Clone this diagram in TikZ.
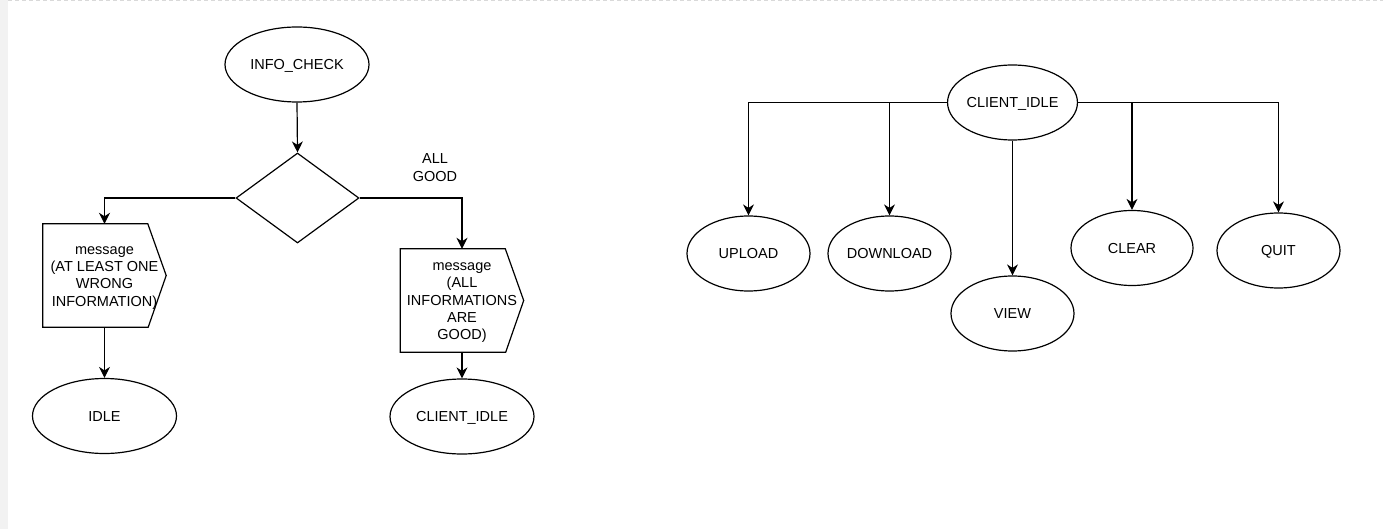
\documentclass[tikz,border=0pt]{standalone}
\usepackage{fontspec}
\setmainfont{Liberation Sans}
\usetikzlibrary{shapes.geometric,arrows.meta}
\begin{document}
\begin{tikzpicture}[x=1pt,y=-1pt,
  every node/.style={font=\fontsize{14.5}{17.3}\selectfont, text=black, inner sep=0pt},
  ell/.style={ellipse, draw, line width=1.2pt, minimum width=#1, minimum height=75pt, text height=10.4pt, text depth=0pt},
  ell/.default=144pt,
  msgbox/.style={rectangle, minimum width=123pt, minimum height=103pt, align=center},
  dia/.style={diamond, draw, line width=1.2pt, minimum width=123pt, minimum height=90pt},
  conn/.style={line width=1.2pt, -{Stealth[length=11pt,width=11pt,inset=3.5pt]}}
]
\useasboundingbox (0,0) rectangle (1383,529);
\fill[white] (0,0) rectangle (1383,529);
\fill[black!5] (0,0) rectangle (7.5,529);
\draw[black!15, line width=1pt, dash pattern=on 4pt off 3pt] (8,0.8) -- (1383,0.8);

% left flowchart
\node[ell] (info) at (297,64.5) {INFO\_CHECK};
\node[dia] (chk) at (297.5,198) {};
\node[msgbox] (m1) at (104.5,275.5) {\strut message\\(AT LEAST ONE\\WRONG\\INFORMATION)};
\draw[line width=1.2pt] (m1.north west) -- ++(105,0) -- (m1.east) -- ([xshift=-18pt]m1.south east) -- (m1.south west) -- cycle;
\node[msgbox] (m2) at (462,300.5) {\strut message\\(ALL\\INFORMATIONS\\ARE\\GOOD)};
\draw[line width=1.2pt] (m2.north west) -- ++(105,0) -- (m2.east) -- ([xshift=-18pt]m2.south east) -- (m2.south west) -- cycle;
\node[ell] (idle) at (104.5,416) {IDLE};
\node[ell] (cil) at (462,416.5) {CLIENT\_IDLE};
\node[align=center] (allgood) at (435,167.5) {ALL\\GOOD};

\draw[conn] (info.south) -- (chk.north);
\draw[conn] (chk.west) -| (m1.north);
\draw[conn] (chk.east) -| (m2.north);
\draw[conn] (m1.south) -- (idle.north);
\draw[conn] (m2.south) -- (cil.north);

% right tree
\node[ell=122pt] (ci) at (1012.5,102.5) {CLIENT\_IDLE};
\node[ell=123pt] (up) at (748.5,253.5) {UPLOAD};
\node[ell=123pt] (down) at (889.5,253.5) {DOWNLOAD};
\node[ell=123pt] (view) at (1012.5,313.5) {VIEW};
\node[ell=122pt] (clear) at (1132,248) {CLEAR};
\node[ell=123pt] (quit) at (1278.5,250.5) {QUIT};

\draw[conn] (ci.west) -| (up.north);
\draw[conn] (ci.west) -| (down.north);
\draw[conn] (ci.south) -- (view.north);
\draw[conn] (ci.east) -| (clear.north);
\draw[conn] (ci.east) -| (quit.north);
\end{tikzpicture}
\end{document}
